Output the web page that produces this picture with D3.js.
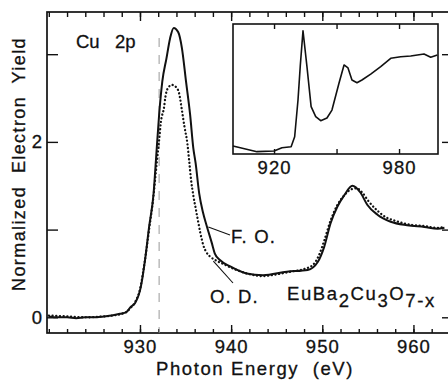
<!DOCTYPE html>
<html>
<head>
    <title>Cu 2p</title>
    <script src="https://d3js.org/d3.v7.min.js"></script>
    <style>
        body { margin: 0; background: #fff; }
        svg text { font-family: "Liberation Sans", Arial, sans-serif; fill: #111; stroke: #111; stroke-width: 0.3px; }
    </style>
</head>
<body>
<div id="vis"></div>
<script>
    // F. O. sample (solid line)
    var foEnergy = [920, 921, 922, 923, 924, 925, 926, 926.9, 927.8, 928.5, 929.0, 929.45, 930.1, 930.55, 931.0, 931.5,
        931.75, 932.1, 932.45, 932.9, 933.3, 933.7, 934.2, 934.6, 935.05, 935.5, 935.85, 936.1, 936.5, 936.9, 937.3,
        937.9, 938.2, 938.8, 939.9, 941.7, 943.5, 946.1, 948.4, 949.5, 950.2, 950.9, 951.65, 952.4, 953.3, 954.2,
        954.95, 956.05, 957.5, 959.3, 961.2, 962.65, 963.4];
    var foYield = [0.01, 0.0, 0.0, -0.01, 0.0, 0.0, 0.01, 0.02, 0.04, 0.06, 0.12, 0.16, 0.35, 0.65, 1.03, 1.42,
        1.79, 2.31, 2.69, 2.95, 3.18, 3.30, 3.25, 3.07, 2.69, 2.31, 1.93, 1.76, 1.41, 1.20, 1.05,
        0.84, 0.73, 0.65, 0.58, 0.50, 0.48, 0.52, 0.54, 0.63, 0.80, 1.07, 1.26, 1.39, 1.50, 1.42,
        1.28, 1.17, 1.09, 1.05, 1.03, 1.01, 1.02];

    // O. D. sample (dotted)
    var odEnergy = [920, 922, 924, 926, 927, 928, 928.5, 929, 929.5, 930, 930.5, 931, 931.5, 931.8, 932.1, 932.3,
        932.65, 932.8, 933.0, 933.5, 934.0, 934.3, 934.6, 934.9, 935.2, 935.4, 935.6, 935.85, 936.15, 936.4, 936.6,
        936.8, 936.95, 937.3, 937.85, 938.5, 939.1, 940.6, 942.1, 943.5, 945, 946.5, 948, 949, 949.6, 950.2, 950.9,
        951.6, 952.4, 953.2, 953.8, 954.4, 955.1, 956, 957, 958, 959, 960, 961.2, 962.6, 963.4];
    var odYield = [0.02, 0.01, 0.0, 0.01, 0.02, 0.04, 0.06, 0.11, 0.18, 0.32, 0.62, 1.0, 1.40, 1.72, 2.02, 2.23,
        2.40, 2.52, 2.60, 2.65, 2.62, 2.55, 2.36, 2.16, 1.98, 1.78, 1.57, 1.39, 1.22, 1.08, 0.97,
        0.88, 0.82, 0.74, 0.68, 0.64, 0.61, 0.54, 0.49, 0.47, 0.49, 0.52, 0.55, 0.60, 0.70, 0.87, 1.10,
        1.27, 1.39, 1.46, 1.47, 1.42, 1.32, 1.22, 1.14, 1.10, 1.07, 1.05, 1.04, 1.02, 1.03];

    // wide scan in the inset (arbitrary units)
    var insetEnergy = [900.3, 911.8, 920.0, 923.8, 928.2, 929.9, 931.5, 932.6, 933.9, 935.8, 937.8, 940.0, 942.4,
        945.4, 947.8, 951.2, 953.6, 955.5, 957.4, 959.8, 962.2, 966.4, 971.2, 976.0, 980.8, 985.6, 992.0, 995.2, 998.4];
    var insetYield = [0.062, 0.018, 0.023, 0.048, 0.056, 0.133, 0.415, 0.68, 0.948, 0.672, 0.364, 0.287, 0.256,
        0.277, 0.338, 0.546, 0.685, 0.662, 0.569, 0.548, 0.569, 0.615, 0.672, 0.736, 0.748, 0.754, 0.769, 0.744, 0.762];

    var xTicks = [930, 940, 950, 960];
    var yTicks = [0, 1, 2, 3];
    var yTickLabels = [0, 2];
    var insetTicks = [920, 950, 980];
    var insetTickLabels = [920, 980];
    var edgeEnergy = 932.1;

    var width = 448, height = 381;
    var ink = "#111";

    var svg = d3.select("#vis").append("svg")
        .attr("width", width)
        .attr("height", height);

    var x = d3.scaleLinear().domain([919.8, 963.9]).range([47, 449]);
    var y = d3.scaleLinear().domain([-0.179, 3.481]).range([333, 12]);

    // axes, ticks pointing inward
    var minorTicks = d3.range(920, 964, 2);

    function styleAxis(g) {
        g.select(".domain").remove();
        g.selectAll("line").attr("stroke", ink).attr("stroke-width", 1.4);
        g.selectAll("text").attr("font-size", 18.5).attr("letter-spacing", 1).attr("fill", ink);
    }

    svg.append("g").attr("transform", "translate(0,333)")
        .call(d3.axisBottom(x).tickValues(minorTicks).tickSize(-4).tickFormat(""))
        .call(styleAxis);
    svg.append("g").attr("transform", "translate(0,333)")
        .call(d3.axisBottom(x).tickValues(xTicks).tickSize(-8).tickPadding(7).tickFormat(d3.format("d")))
        .call(styleAxis);
    svg.append("g").attr("transform", "translate(0,12)")
        .call(d3.axisTop(x).tickValues(minorTicks).tickSize(-5).tickFormat(""))
        .call(styleAxis);
    svg.append("g").attr("transform", "translate(0,12)")
        .call(d3.axisTop(x).tickValues(xTicks).tickSize(-9).tickFormat(""))
        .call(styleAxis);
    svg.append("g").attr("transform", "translate(47,0)")
        .call(d3.axisLeft(y).tickValues(yTicks).tickSize(-11).tickPadding(4)
            .tickFormat(function(d) { return yTickLabels.indexOf(d) >= 0 ? d : ""; }))
        .call(styleAxis);
    svg.append("g").attr("transform", "translate(449,0)")
        .call(d3.axisRight(y).tickValues(yTicks).tickSize(-7).tickFormat(""))
        .call(styleAxis);

    // frame
    svg.append("rect")
        .attr("x", 47).attr("y", 12)
        .attr("width", 402).attr("height", 321)
        .attr("fill", "none")
        .attr("stroke", ink)
        .attr("stroke-width", 1.7);

    // edge marker
    svg.append("line")
        .attr("x1", x(edgeEnergy)).attr("x2", x(edgeEnergy))
        .attr("y1", 38).attr("y2", 333)
        .attr("stroke", "#999")
        .attr("stroke-width", 1)
        .attr("stroke-dasharray", "9 8");

    var fo = d3.zip(foEnergy, foYield);
    var od = d3.zip(odEnergy, odYield);

    var line = d3.line()
        .x(function(d) { return x(d[0]); })
        .y(function(d) { return y(d[1]); })
        .curve(d3.curveMonotoneX);

    svg.append("path")
        .datum(od)
        .attr("d", line)
        .attr("fill", "none")
        .attr("stroke", ink)
        .attr("stroke-width", 2.3)
        .attr("stroke-linecap", "round")
        .attr("stroke-dasharray", "0.1 3.6");

    svg.append("path")
        .datum(fo)
        .attr("d", line)
        .attr("fill", "none")
        .attr("stroke", ink)
        .attr("stroke-width", 2);

    // labels
    var cu = svg.append("text")
        .attr("y", 48)
        .attr("font-size", 18.5);
    cu.append("tspan").attr("x", 76).text("Cu");
    cu.append("tspan").attr("x", 115).text("2p");

    svg.append("line")
        .attr("x1", x(937.5)).attr("y1", y(1.03))
        .attr("x2", 230).attr("y2", 235)
        .attr("stroke", ink).attr("stroke-width", 1.1);
    svg.append("text")
        .attr("x", 231).attr("y", 243)
        .attr("font-size", 18.5)
        .attr("letter-spacing", 1.2)
        .style("white-space", "pre")
        .text("F. O.");

    svg.append("line")
        .attr("x1", x(938.05)).attr("y1", y(0.64))
        .attr("x2", 233).attr("y2", 283)
        .attr("stroke", ink).attr("stroke-width", 1.1);
    svg.append("text")
        .attr("x", 210).attr("y", 303)
        .attr("font-size", 18.5)
        .attr("letter-spacing", 1.1)
        .style("white-space", "pre")
        .text("O. D.");

    var formula = svg.append("text")
        .attr("x", 287).attr("y", 300)
        .attr("font-size", 18.5)
        .attr("letter-spacing", 1.6);
    formula.append("tspan").text("EuBa");
    formula.append("tspan").attr("dy", 7).text("2");
    formula.append("tspan").attr("dy", -7).text("Cu");
    formula.append("tspan").attr("dy", 7).text("3");
    formula.append("tspan").attr("dy", -7).text("O");
    formula.append("tspan").attr("dy", 7).text("7-x");

    svg.append("text")
        .attr("x", 255).attr("y", 375)
        .attr("text-anchor", "middle")
        .attr("font-size", 18.5)
        .attr("letter-spacing", 1.6)
        .style("white-space", "pre")
        .text("Photon Energy  (eV)");

    svg.append("text")
        .attr("transform", "translate(25,164) rotate(-90)")
        .attr("text-anchor", "middle")
        .attr("font-size", 18)
        .attr("letter-spacing", 1.4)
        .style("white-space", "pre")
        .text("Normalized  Electron  Yield");

    // inset
    var xi = d3.scaleLinear().domain([900.3, 998.7]).range([233, 438]);
    var yi = d3.scaleLinear().domain([0, 1]).range([154, 24]);

    svg.append("rect")
        .attr("x", 233).attr("y", 24)
        .attr("width", 205).attr("height", 130)
        .attr("fill", "#fff")
        .attr("stroke", ink)
        .attr("stroke-width", 1.6);

    svg.append("g").attr("transform", "translate(0,154)")
        .call(d3.axisBottom(xi).tickValues(insetTicks).tickSize(-5).tickPadding(7)
            .tickFormat(function(d) { return insetTickLabels.indexOf(d) >= 0 ? d : ""; }))
        .call(styleAxis);
    svg.append("g").attr("transform", "translate(0,24)")
        .call(d3.axisTop(xi).tickValues(insetTicks).tickSize(-5).tickFormat(""))
        .call(styleAxis);

    var insetLine = d3.line()
        .x(function(d) { return xi(d[0]); })
        .y(function(d) { return yi(d[1]); });

    svg.append("path")
        .datum(d3.zip(insetEnergy, insetYield))
        .attr("d", insetLine)
        .attr("fill", "none")
        .attr("stroke", ink)
        .attr("stroke-width", 1.6)
        .attr("stroke-linejoin", "round");
</script>
</body>
</html>
